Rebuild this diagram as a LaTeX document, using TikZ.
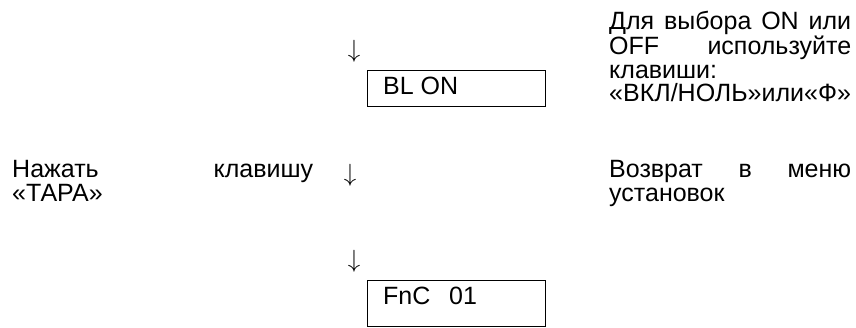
\documentclass[tikz,border=0pt]{standalone}
\usepackage{fontspec}
\setmainfont{Liberation Sans}
\usetikzlibrary{calc}
\tikzset{
  txt/.style={inner sep=0pt, anchor=base west, font=\fontsize{25}{23.5}\selectfont},
  arr/.style={inner sep=0pt, anchor=center, font=\fontsize{24}{24}\selectfont},
  screen/.style={draw, line width=1.2pt, anchor=north west, minimum width=178pt, inner sep=0pt}
}
\newcommand{\jl}[2]{\makebox[#1][s]{#2}\par}
\begin{document}
\begin{tikzpicture}[x=1pt,y=-1pt]
\useasboundingbox (0,0) rectangle (856,328);
% arrows
\node[arr] (a1) at (354,51) {$\downarrow$};
\node[arr] (a2) at (350,175) {$\downarrow$};
\node[arr] (a3) at (354,261) {$\downarrow$};
% screens
\node[screen, minimum height=36pt] (bl) at (367,70) {};
\node[txt] (bltext) at ($(bl.north west)+(16,25)$) {BL ON};
\node[screen, minimum height=46pt] (fnc) at (367,280) {};
\node[txt] (fnctext) at ($(fnc.north west)+(16,25)$) {FnC\hspace{0.75em}01};
% right top note
\node[txt] (note1) at (609,30) {\parbox[t]{242pt}{\fontsize{25}{23.5}\selectfont
\jl{242pt}{Для выбора ON или}
\jl{242pt}{OFF используйте}
клавиши:\par
«ВКЛ/НОЛЬ»или«Ф»}};
% left note
\node[txt] (press) at (12,178) {\parbox[t]{301pt}{\fontsize{25}{23.5}\selectfont
\jl{301pt}{Нажать клавишу}
«ТАРА»}};
% right middle note
\node[txt] (ret) at (609,178) {\parbox[t]{242pt}{\fontsize{25}{23.5}\selectfont
\jl{242pt}{Возврат в меню}
установок}};
\end{tikzpicture}
\end{document}
